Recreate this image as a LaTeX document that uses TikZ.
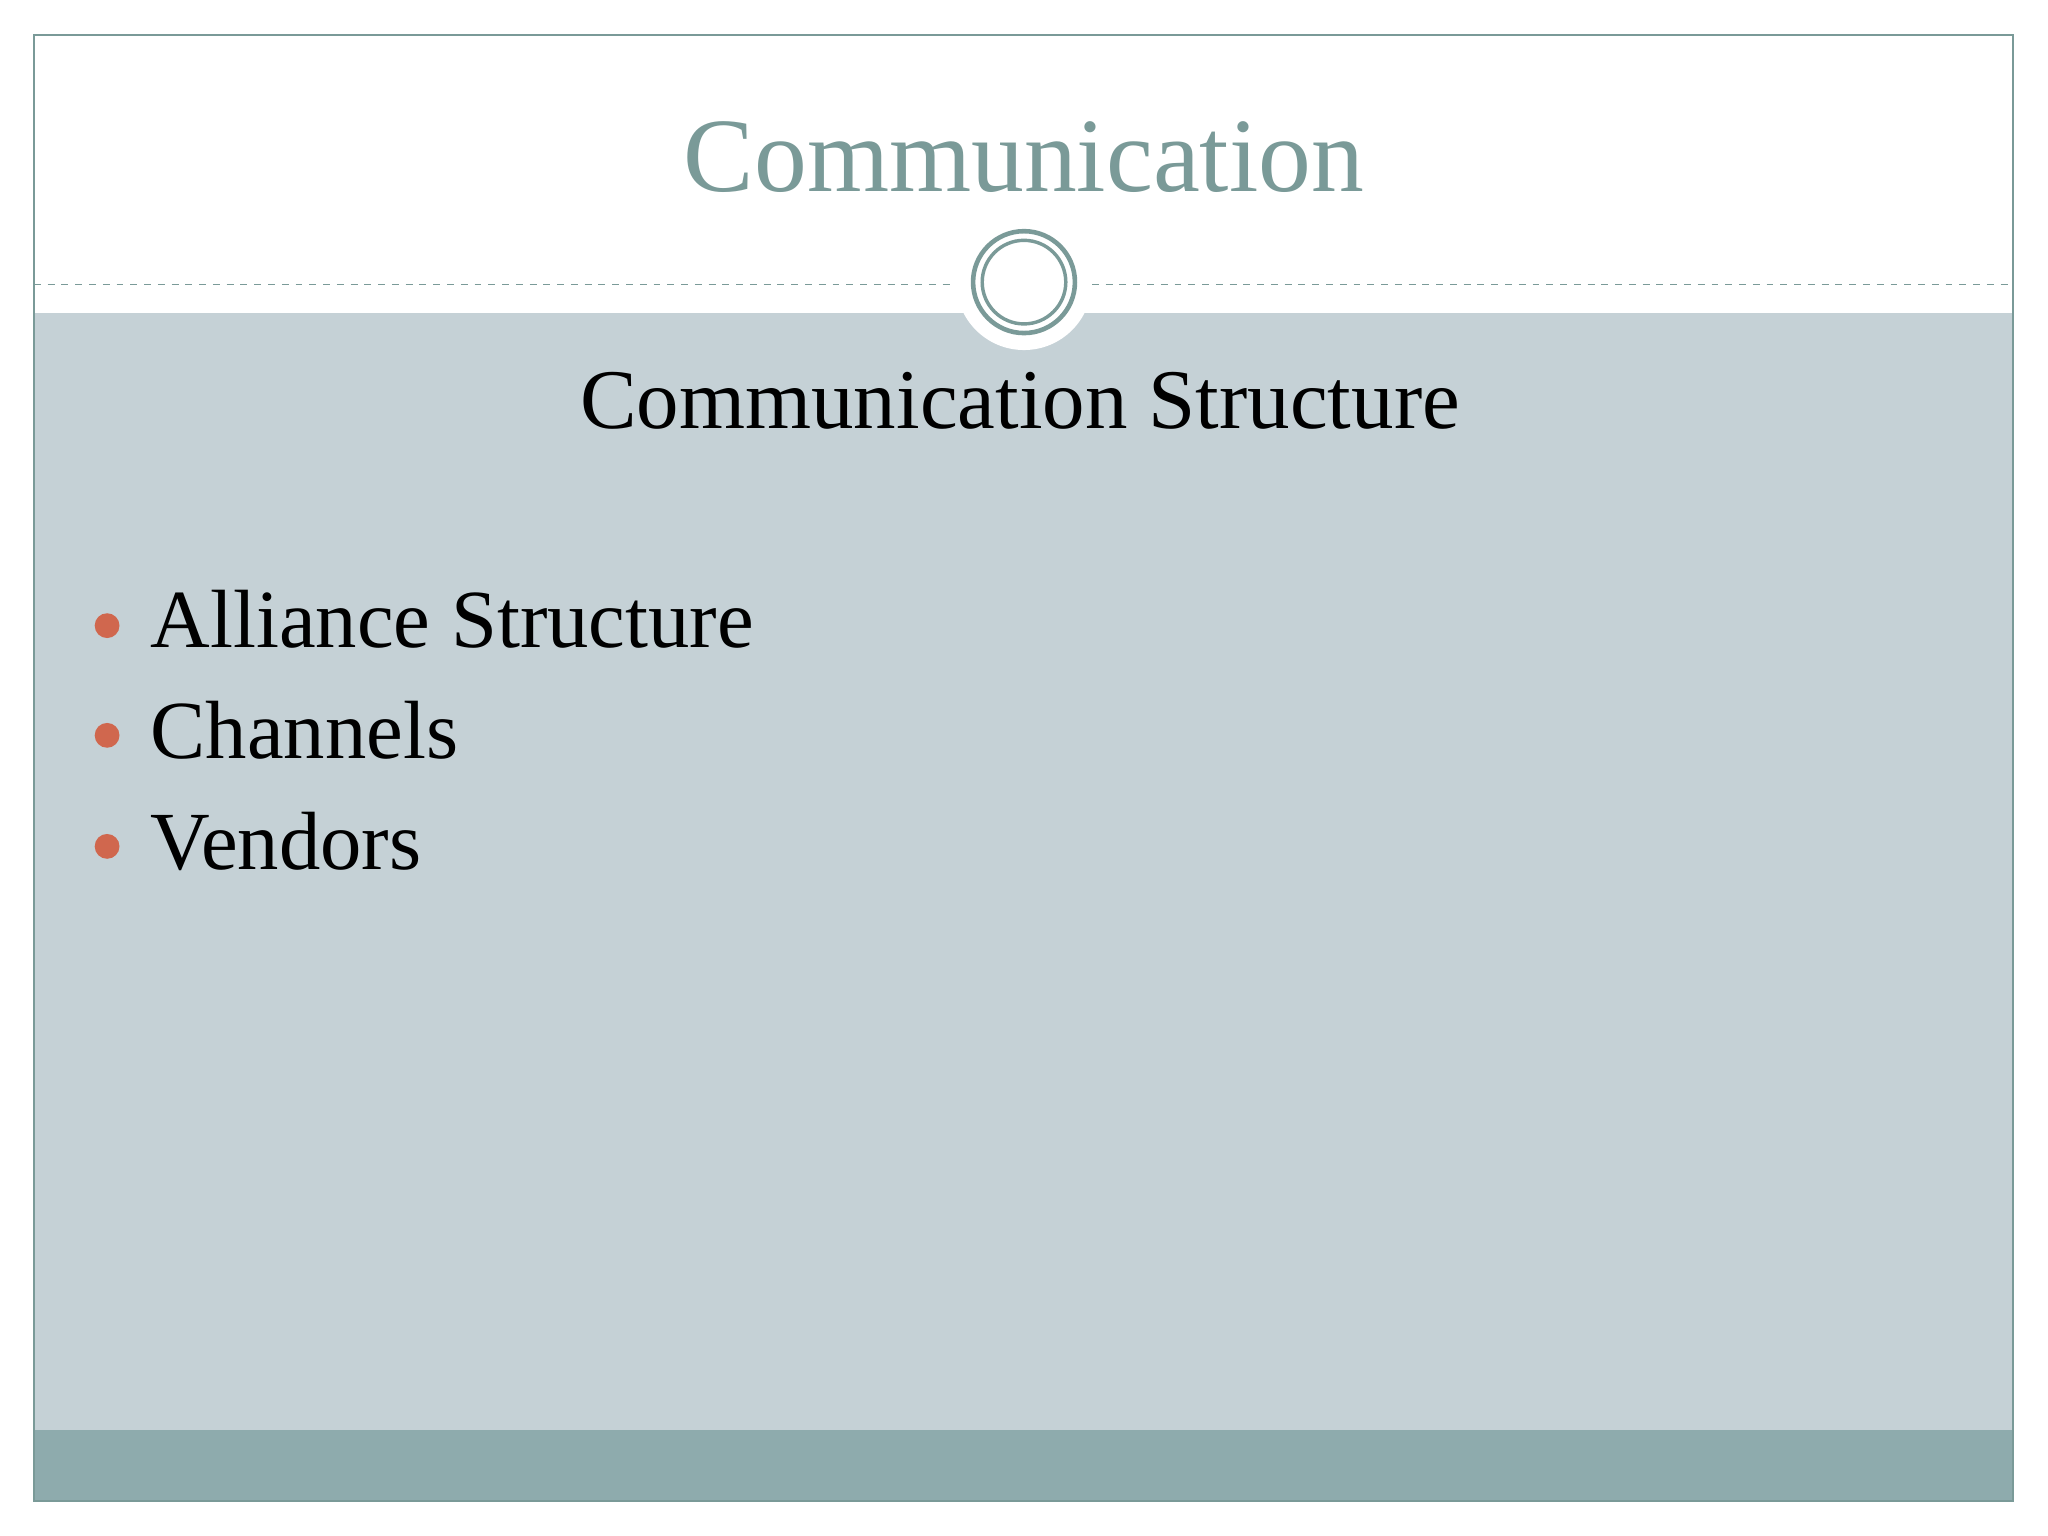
\documentclass[tikz,border=0pt]{standalone}
\usepackage{fontspec}
\setmainfont{Liberation Serif}
\definecolor{teal}{HTML}{7A9A98}
\definecolor{bodyc}{HTML}{C5D1D6}
\definecolor{foot}{HTML}{8EABAD}
\definecolor{bul}{HTML}{D0674E}
\tikzset{item/.style={anchor=base west,font=\fontsize{36}{40}\selectfont,inner sep=0pt},
 dot/.style={circle,fill=bul,minimum size=0.38cm,inner sep=0pt}}
\begin{document}
\begin{tikzpicture}[x=0.02cm,y=-0.02cm]
\useasboundingbox (0,0) rectangle (1568,1176);
\fill[white] (0,0) rectangle (1568,1176);
\fill[bodyc] (26,240) rectangle (1541,1095);
\fill[foot] (26,1095) rectangle (1541,1149);
\draw[teal,line width=0.8pt] (26,27) rectangle (1541,1149);
\draw[teal,dashed,line width=0.6pt] (26,218) -- (728,218);
\draw[teal,dashed,line width=0.6pt] (836,218) -- (1541,218);
\fill[white] (784,216) circle (52);
\draw[teal,line width=2pt] (784,216) circle (39);
\draw[teal,line width=1.5pt] (784,216) circle (32);
\node[teal,font=\fontsize{46}{50}\selectfont] (title) at (784,120) {Communication};
\node[font=\fontsize{37}{42}\selectfont] (sub) at (781,307) {Communication Structure};
\node[item] (i1) at (115,496) {Alliance Structure};
\node[item] (i2) at (115,581) {Channels};
\node[item] (i3) at (115,666) {Vendors};
\node[dot] (d1) at (82,479) {};
\node[dot] (d2) at (82,563) {};
\node[dot] (d3) at (82,648) {};
\end{tikzpicture}
\end{document}
